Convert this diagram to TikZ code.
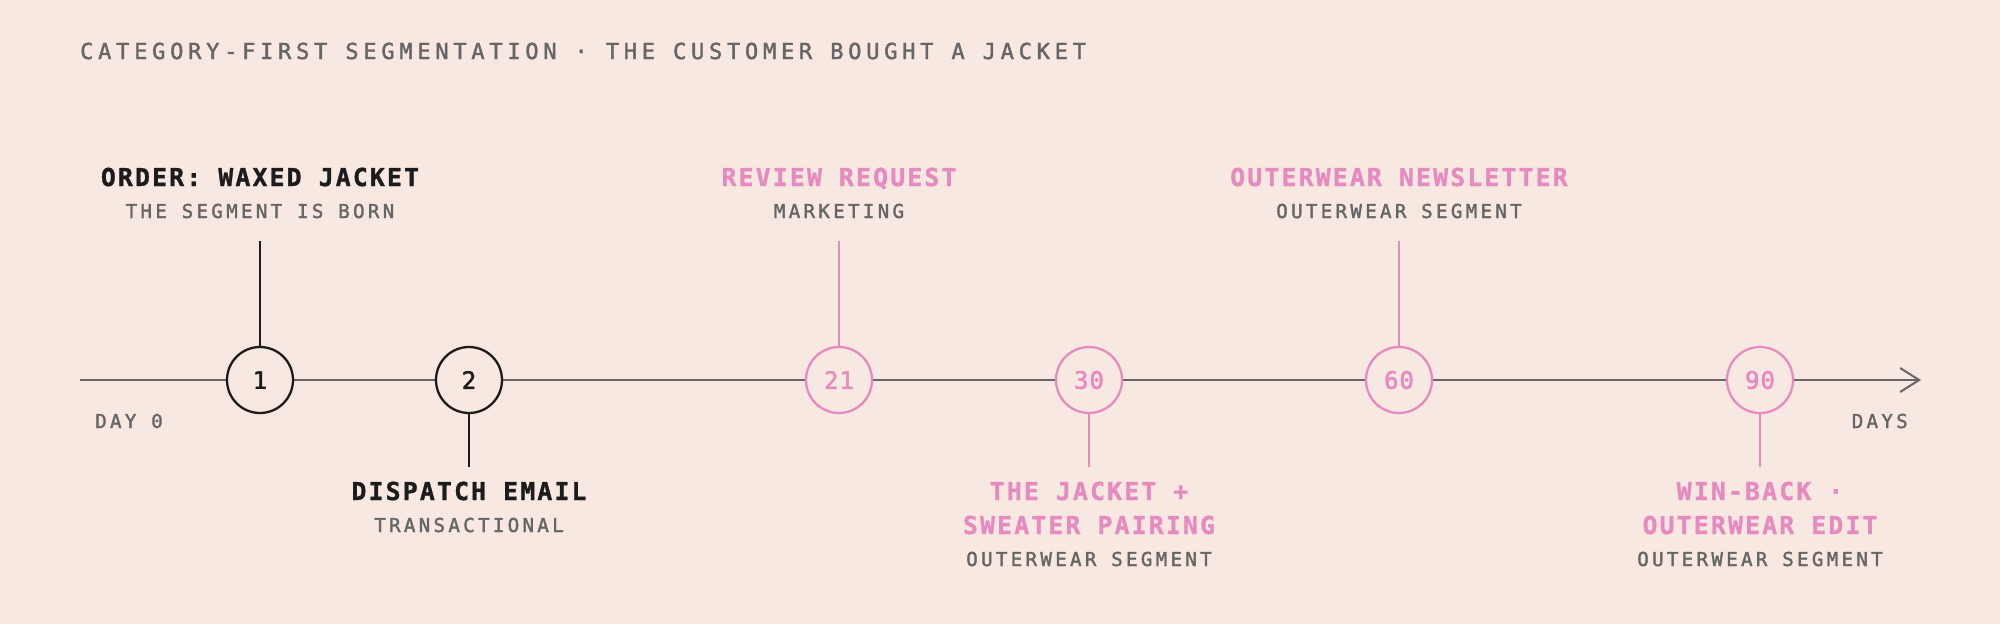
\documentclass[tikz,border=0pt]{standalone}
\usepackage{fontspec}
\newfontfamily\headfont[LetterSpace=21.6,FakeBold=1.8]{DejaVu Sans Mono}
\newfontfamily\evfont[LetterSpace=9,FakeBold=1.2]{DejaVu Sans Mono}
\newfontfamily\subfont[LetterSpace=17,FakeBold=1.8]{DejaVu Sans Mono}
\newfontfamily\numfont[LetterSpace=4,FakeBold=2]{DejaVu Sans Mono}
\usetikzlibrary{arrows.meta,positioning}
\definecolor{paper}{HTML}{F7E8E1}
\definecolor{ink}{HTML}{1C1C1C}
\definecolor{slate}{HTML}{666666}
\definecolor{rose}{HTML}{E68AC0}

\begin{document}
\begin{tikzpicture}[x=1pt,y=-1pt,
	day/.style={circle,draw=#1,text=#1,line width=2.3pt,fill=paper,minimum size=66pt,inner sep=0pt,font=\numfont\fontsize{24}{24}\selectfont},
	stem/.style={draw=#1,line width=2pt},
	evt/.style={text=#1,anchor=base,inner sep=0pt,align=center,font=\evfont\bfseries\fontsize{24.7}{34}\selectfont},
	sub/.style={text=slate,anchor=base,inner sep=0pt,font=\subfont\fontsize{19.2}{19.2}\selectfont}]
			\fill[paper] (0,0) rectangle (2000,624);
			\useasboundingbox (0,0) rectangle (2000,624);
			\node[anchor=base west,inner sep=0pt,text=slate,font=\headfont\fontsize{22}{22}\selectfont](head) at (80,59) {CATEGORY-FIRST SEGMENTATION · THE CUSTOMER BOUGHT A JACKET};
			% the time axis
			\coordinate (a0) at (80,380);
			\coordinate (a1) at (1921,380);
			\draw[slate,line width=2pt,-{Straight Barb[length=19pt,width=24pt]}] (a0) -- (a1);
			\node[sub,anchor=base west](day0) at (95,428) {DAY 0};
			\node[sub,anchor=base east](days) at (1908,428) {DAYS};
			% the touch points
			\node[day=ink](d1) at (260,380) {1};
			\node[day=ink](d2) at (469,380) {2};
			\node[day=rose](d21) at (839,380) {21};
			\node[day=rose](d30) at (1089,380) {30};
			\node[day=rose](d60) at (1399,380) {60};
			\node[day=rose](d90) at (1760,380) {90};
			\coordinate[above=105pt of d1.north](u1);
			\coordinate[below=53pt of d2.south](u2);
			\coordinate[above=105pt of d21.north](u21);
			\coordinate[below=53pt of d30.south](u30);
			\coordinate[above=105pt of d60.north](u60);
			\coordinate[below=53pt of d90.south](u90);
			\path
			(d1) edge[stem=ink] (u1)
			(d2) edge[stem=ink] (u2)
			(d21) edge[stem=rose] (u21)
			(d30) edge[stem=rose] (u30)
			(d60) edge[stem=rose] (u60)
			(d90) edge[stem=rose] (u90);
			% labels (two-line ones sit on their last baseline)
			\node[evt=ink](o1) at (260,186) {ORDER: WAXED JACKET};
			\node[sub](o1s) at (260,218) {THE SEGMENT IS BORN};
			\node[evt=ink](o2) at (469,500) {DISPATCH EMAIL};
			\node[sub](o2s) at (469,532) {TRANSACTIONAL};
			\node[evt=rose](o21) at (839,186) {REVIEW REQUEST};
			\node[sub](o21s) at (839,218) {MARKETING};
			\node[evt=rose](o30) at (1089,534) {THE JACKET +\\SWEATER PAIRING};
			\node[sub](o30s) at (1089,566) {OUTERWEAR SEGMENT};
			\node[evt=rose](o60) at (1399,186) {OUTERWEAR NEWSLETTER};
			\node[sub](o60s) at (1399,218) {OUTERWEAR SEGMENT};
			\node[evt=rose](o90) at (1760,534) {WIN-BACK ·\\OUTERWEAR EDIT};
			\node[sub](o90s) at (1760,566) {OUTERWEAR SEGMENT};
\end{tikzpicture}
\end{document}
